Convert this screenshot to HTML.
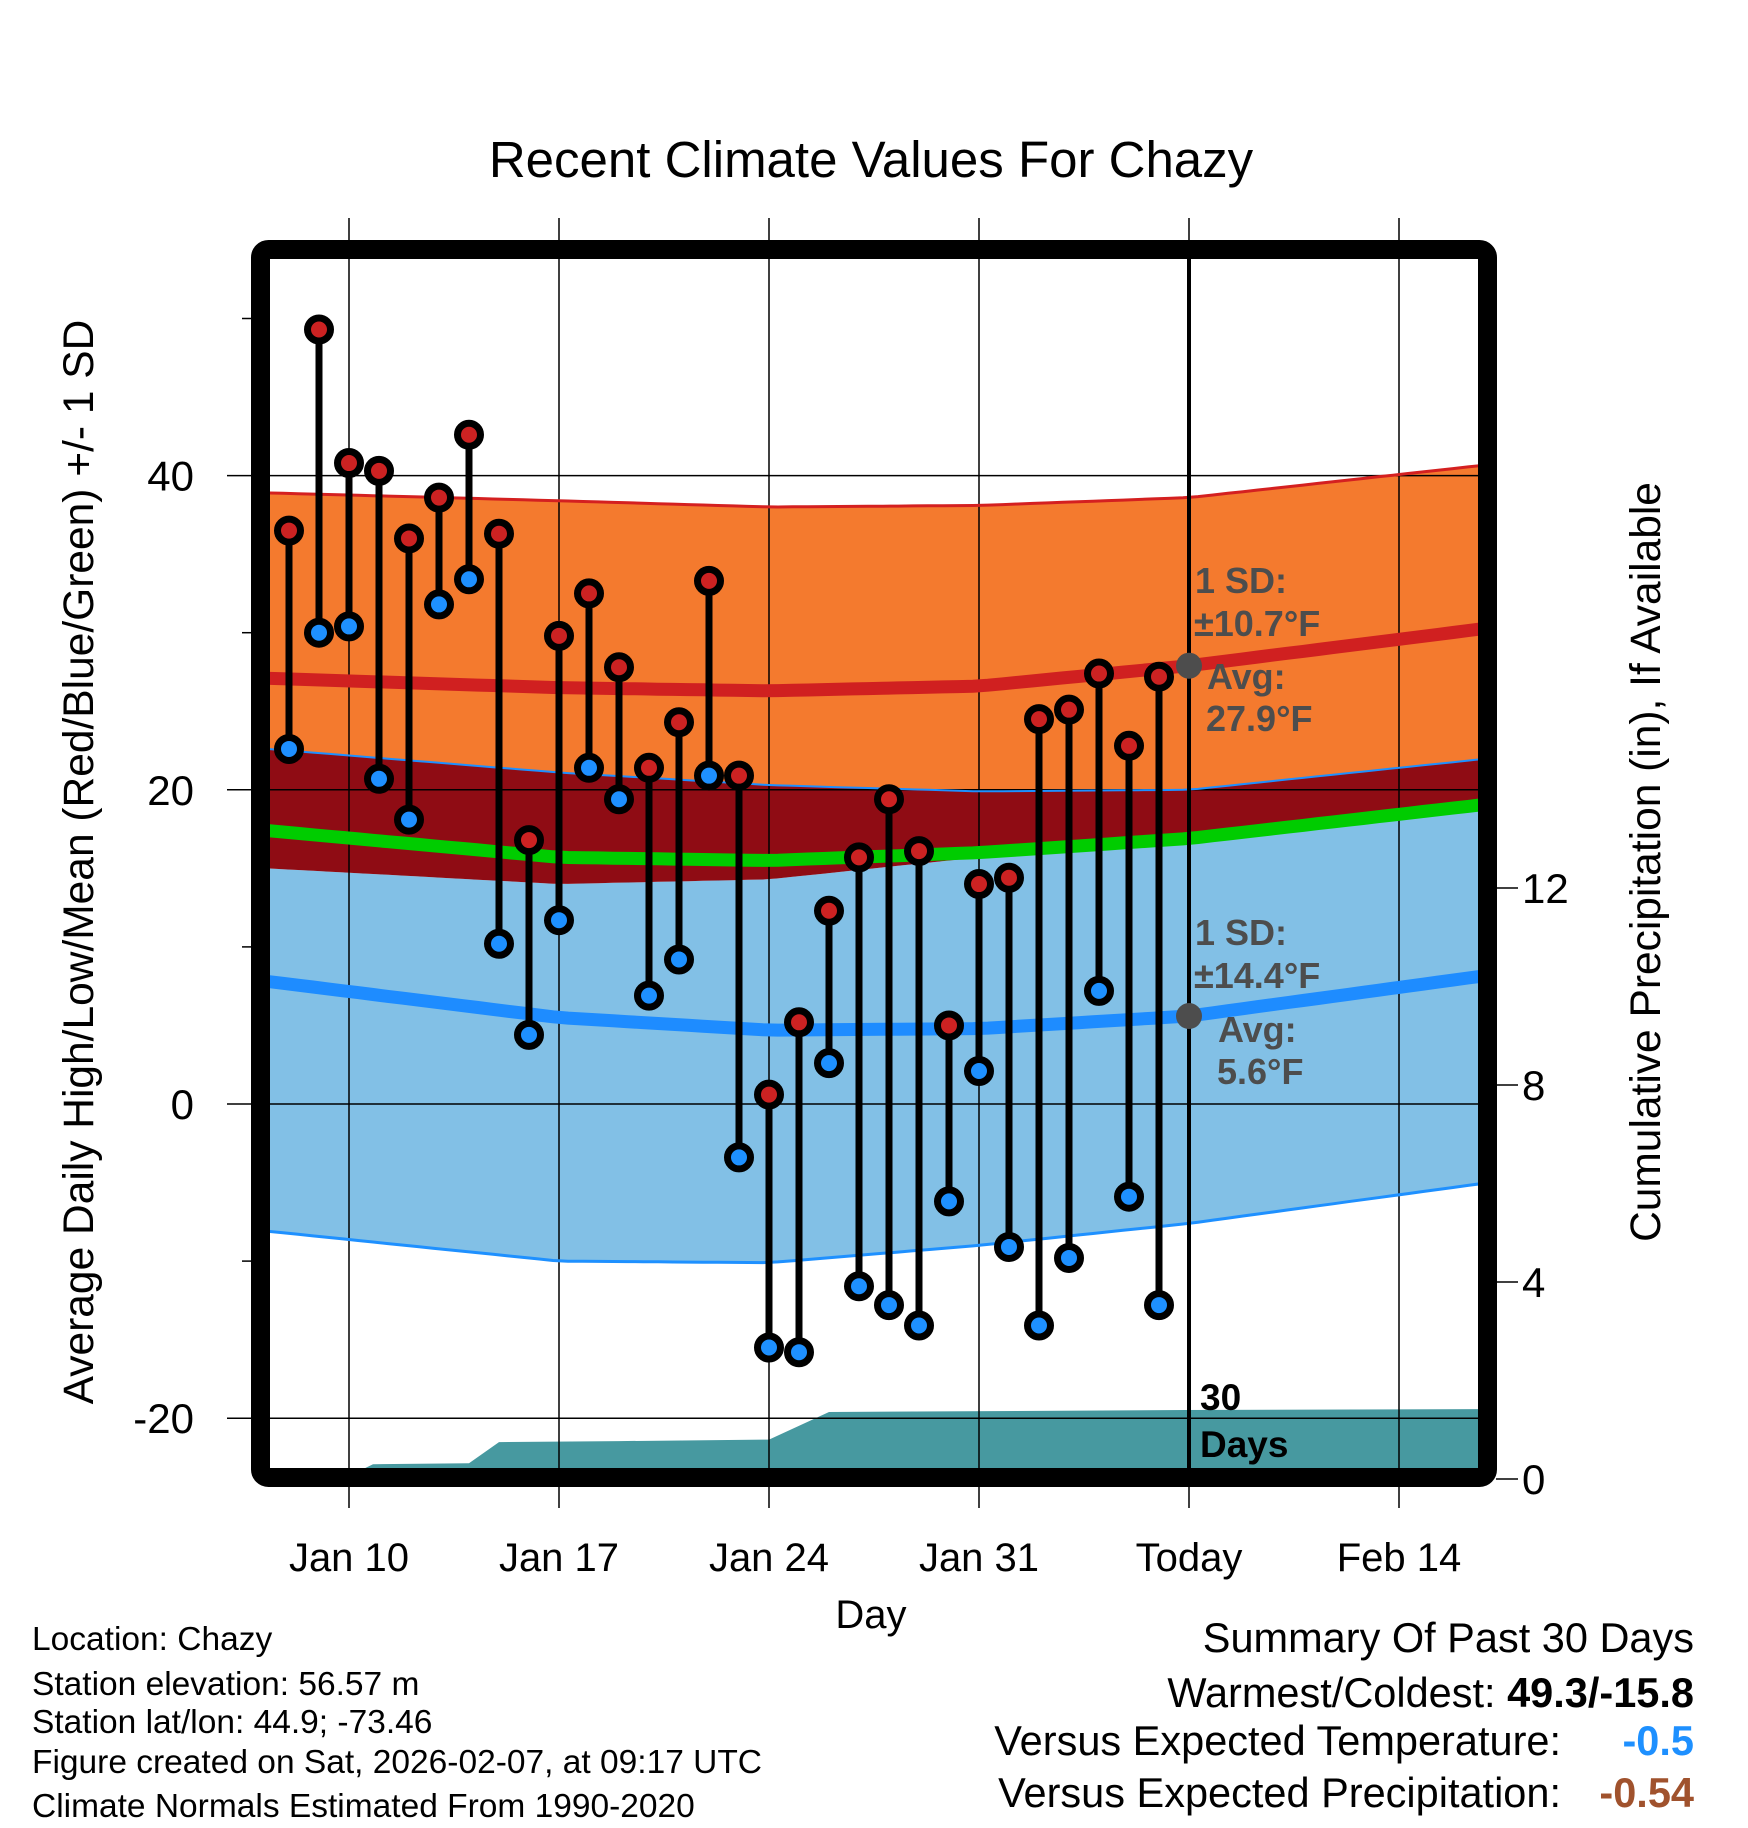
<!DOCTYPE html>
<html><head><meta charset="utf-8"><style>
html,body{margin:0;padding:0;background:#fff;}
svg{display:block;font-family:"Liberation Sans",Arial,sans-serif;}
</style></head><body>
<svg id="chart" width="1748" height="1828" viewBox="0 0 1748 1828" xmlns="http://www.w3.org/2000/svg">
<defs><clipPath id="plotclip"><rect x="270" y="259" width="1208" height="1209"/></clipPath></defs>
<text x="871" y="177" font-size="51" text-anchor="middle">Recent Climate Values For Chazy</text>
<g id="bands" clip-path="url(#plotclip)"></g>
<g id="grid"></g>
<g id="marks"></g>
<rect x="260.5" y="249.5" width="1227" height="1228" rx="8" fill="none" stroke="#000" stroke-width="19"/>
<g id="labels"></g>
<text transform="translate(93,862) rotate(-90)" font-size="42.5" text-anchor="middle">Average Daily High/Low/Mean (Red/Blue/Green) +/- 1 SD</text>
<text transform="translate(1660,862) rotate(-90)" font-size="42.5" text-anchor="middle">Cumulative Precipitation (in), If Available</text>
<text x="871" y="1628" font-size="40" text-anchor="middle">Day</text>
<g font-size="33.5">
<text x="32" y="1650">Location: Chazy</text>
<text x="32" y="1695">Station elevation: 56.57 m</text>
<text x="32" y="1733">Station lat/lon: 44.9; -73.46</text>
<text x="32" y="1773">Figure created on Sat, 2026-02-07, at 09:17 UTC</text>
<text x="32" y="1817">Climate Normals Estimated From 1990-2020</text>
</g>
<g font-size="41.5">
<text x="1694" y="1652" text-anchor="end">Summary Of Past 30 Days</text>
<text x="1694" y="1707" text-anchor="end">Warmest/Coldest: <tspan font-weight="bold">49.3/-15.8</tspan></text>
<text x="1561" y="1755" text-anchor="end">Versus Expected Temperature:</text>
<text x="1694" y="1755" text-anchor="end" font-weight="bold" fill="#1e90ff">-0.5</text>
<text x="1561" y="1807" text-anchor="end">Versus Expected Precipitation:</text>
<text x="1694" y="1807" text-anchor="end" font-weight="bold" fill="#a0522d">-0.54</text>
</g>
</svg>
<script>
// Days relative to Jan 10 (0 = Jan 10)
const obsDays = [-2,-1,0,1,2,3,4,5,6,7,8,9,10,11,12,13,14,15,16,17,18,19,20,21,22,23,24,25,26,27];
const highs = [36.5,49.3,40.8,40.3,36.0,38.6,42.6,36.3,16.8,29.8,32.5,27.8,21.4,24.3,33.3,20.9,0.6,5.2,12.3,15.7,19.4,16.1,5.0,14.0,14.4,24.5,25.1,27.4,22.8,27.2];
const lows = [22.6,30.0,30.4,20.7,18.1,31.8,33.4,10.2,4.4,11.7,21.4,19.4,6.9,9.2,20.9,-3.4,-15.5,-15.8,2.6,-11.6,-12.8,-14.1,-6.2,2.1,-9.1,-14.1,-9.8,7.2,-5.9,-12.8];
const normDays = [-2.7,7,14,21,28,38];
const hiTop = [38.9,38.4,38.0,38.1,38.6,40.7];
const hiAvg = [27.1,26.5,26.3,26.6,27.9,30.3];
const hiBot = [22.6,21.1,20.3,19.9,20.0,22.0];
const meanAvg = [17.4,15.7,15.5,16.0,16.9,19.1];
const loTop = [15.0,14.0,14.3,15.7,16.9,18.7];
const loAvg = [7.8,5.5,4.7,4.8,5.6,8.2];
const loBot = [-8.1,-10.0,-10.1,-9.0,-7.6,-5.0];
const precipDays = [-2.7,-0.2,0.8,4,5,9,14,16,27.9,38];
const precipVals = [0,0,0.3,0.32,0.75,0.77,0.8,1.36,1.4,1.42];
const xTickDays = [0,7,14,21,28,35];
const xTickLabels = ["Jan 10","Jan 17","Jan 24","Jan 31","Today","Feb 14"];
const yTicks = [-20,0,20,40];
const yMinor = [-10,10,30,50];
const pTicks = [0,4,8,12];

const NS="http://www.w3.org/2000/svg";
const X=d=>349+30*d;
const Y=t=>1104-15.71*t;
const YP=p=>1479-49.25*p;
function mk(tag,parent,attrs){const e=document.createElementNS(NS,tag);for(const k in attrs)e.setAttribute(k,attrs[k]);parent.appendChild(e);return e;}
function interp(arr,d){for(let i=0;i<normDays.length-1;i++){if(d<=normDays[i+1]){const f=(d-normDays[i])/(normDays[i+1]-normDays[i]);return arr[i]+(arr[i+1]-arr[i])*f;}}return arr[arr.length-1];}
const samp=[];for(let d=-2.7;d<38;d+=0.5)samp.push(d);samp.push(38);
function linePts(arr){return samp.map(d=>X(d).toFixed(1)+","+Y(interp(arr,d)).toFixed(1));}
function bandPath(a,b){const p1=linePts(a),p2=linePts(b).reverse();return "M"+p1.join("L")+"L"+p2.join("L")+"Z";}
const bands=document.getElementById('bands');
let e;
e=mk('path',bands,{d:bandPath(loTop,loBot),fill:'#82c0e6'});


e=mk('path',bands,{d:bandPath(hiBot,loTop),fill:'#8f0c14'});


e=mk('path',bands,{d:bandPath(hiTop,hiBot),fill:'#f47a2e'});


let pp="M"+X(-2.7)+","+1480;
precipDays.forEach((d,i)=>{pp+="L"+X(d).toFixed(1)+","+YP(precipVals[i]).toFixed(1);});
pp+="L"+X(38)+",1480Z";
e=mk('path',bands,{d:pp,fill:'#4799a0'});


const grid=document.getElementById('grid');
xTickDays.forEach(d=>{
 e=mk('line',grid,{x1:X(d),x2:X(d),y1:218,y2:1508,stroke:'#000','stroke-width':1.5});
 
 
});
yTicks.forEach(t=>{
 e=mk('line',grid,{x1:227,x2:1478,y1:Y(t),y2:Y(t),stroke:'#000','stroke-width':1.5});
 
 
});
yMinor.forEach(t=>{
 e=mk('line',grid,{x1:242,x2:252,y1:Y(t),y2:Y(t),stroke:'#000','stroke-width':1.5});
 
 
});
pTicks.forEach(p=>{
 e=mk('line',grid,{x1:1496,x2:1518,y1:YP(p),y2:YP(p),stroke:'#000','stroke-width':1.5});
 
 
});
const lg=mk('g',grid,{'clip-path':'url(#plotclip)'});
[[hiTop,'#d42020',3,'high-sd-top'],[hiBot,'#1e90ff',2,'high-sd-bottom'],[loBot,'#1e90ff',3,'low-sd-bottom'],[hiAvg,'#d02020',13,'normal-high-line'],[loAvg,'#1e8cff',13,'normal-low-line'],[meanAvg,'#00cc00',13,'normal-mean-line']].forEach(a=>{
 e=mk('polyline',lg,{points:linePts(a[0]).join(" "),fill:'none',stroke:a[1],'stroke-width':a[2]});
 
 
});
const marks=document.getElementById('marks');
e=mk('line',marks,{x1:X(28),x2:X(28),y1:259,y2:1468,stroke:'#000','stroke-width':4});


obsDays.forEach((d,i)=>{
 e=mk('line',marks,{x1:X(d),x2:X(d),y1:Y(highs[i]),y2:Y(lows[i]),stroke:'#000','stroke-width':7});
 
 
});
obsDays.forEach((d,i)=>{
 e=mk('circle',marks,{cx:X(d),cy:Y(highs[i]),r:11.5,fill:'#cc2222',stroke:'#000','stroke-width':7});
 
 
 e=mk('circle',marks,{cx:X(d),cy:Y(lows[i]),r:11.5,fill:'#1e90ff',stroke:'#000','stroke-width':7});
 
 
});
e=mk('circle',marks,{cx:X(28),cy:Y(interp(hiAvg,28)),r:13,fill:'#4d4d4d'});


e=mk('circle',marks,{cx:X(28),cy:Y(interp(loAvg,28)),r:13,fill:'#4d4d4d'});


function txt(parent,x,y,s,attrs){const t=mk('text',parent,attrs);t.setAttribute('x',x);t.setAttribute('y',y);t.textContent=s;return t;}
const ann=mk('g',marks,{'font-size':36,'font-weight':'bold',fill:'#4d4d4d'});


[["1 SD:",1195,593],["±10.7°F",1194,636],["Avg:",1207,689],["27.9°F",1206,731],["1 SD:",1195,945],["±14.4°F",1194,988],["Avg:",1218,1042],["5.6°F",1217,1084]].forEach(a=>txt(ann,a[1],a[2],a[0],{}));
const dl=mk('g',marks,{'font-size':37,'font-weight':'bold',fill:'#000'});


txt(dl,1200,1410,"30",{});txt(dl,1200,1457,"Days",{});
const labels=document.getElementById('labels');
xTickDays.forEach((d,i)=>{
 e=txt(labels,X(d),1571,xTickLabels[i],{'font-size':40,'text-anchor':'middle'});
 
 
});
yTicks.forEach(t=>{
 e=txt(labels,194,Y(t)+15,String(t),{'font-size':42,'text-anchor':'end'});
 
 
});
pTicks.forEach(p=>{
 e=txt(labels,1522,YP(p)+15,String(p),{'font-size':42,'text-anchor':'start'});
 
 
});
</script>
</body></html>
